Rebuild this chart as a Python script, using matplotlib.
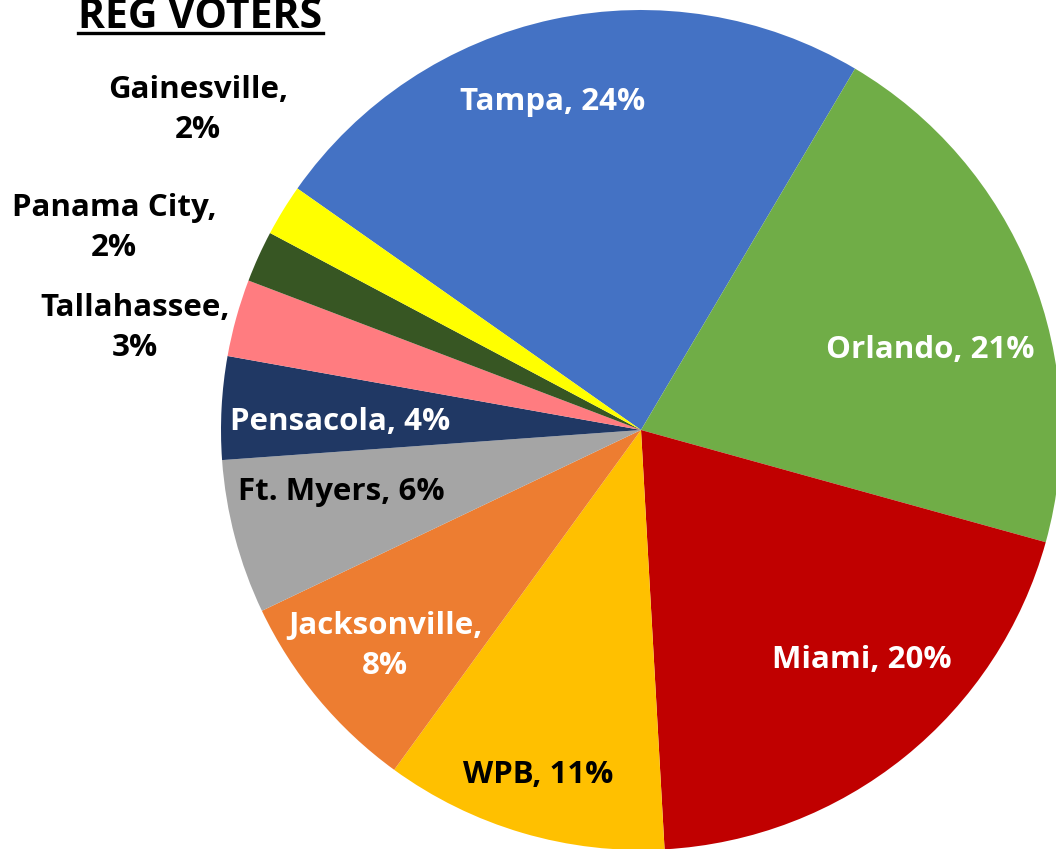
import matplotlib
matplotlib.use("Agg")
import matplotlib.pyplot as plt

# Registered voters by media market (percent)
markets = ["Tampa", "Orlando", "Miami", "WPB", "Jacksonville", "Ft. Myers",
           "Pensacola", "Tallahassee", "Panama City", "Gainesville"]
shares = [24, 21, 20, 11, 8, 6, 4, 3, 2, 2]
colors = ["#4472C4", "#70AD47", "#C00000", "#FFC000", "#ED7D31", "#A5A5A5",
          "#203864", "#FF7C80", "#375623", "#FFFF00"]
label_colors = ["white", "white", "white", "black", "white", "black",
                "white", "black", "black", "black"]
# label text: wrapped ones get their own line for the percentage
wrapped = ["Jacksonville", "Tallahassee", "Panama City", "Gainesville"]

W, H = 1056, 849
CX, CY, R = 641, 430, 420  # pie center / radius in pixels

# label anchor positions in pixels
label_px = {
    "Tampa": (553, 102),
    "Orlando": (930, 350),
    "Miami": (862, 660),
    "WPB": (538, 775),
    "Jacksonville": (385, 646),
    "Ft. Myers": (341, 492),
    "Pensacola": (340, 422),
    "Tallahassee": (135, 328),
    "Panama City": (114, 228),
    "Gainesville": (198, 110),
}

FONT = "Open Sans"

fig = plt.figure(figsize=(W / 100, H / 100), dpi=100)
ax = fig.add_axes([0, 0, 1, 1])

ax.pie(shares, colors=colors, startangle=144.9, counterclock=False,
       radius=1.0, center=(0, 0),
       wedgeprops=dict(linewidth=0, edgecolor="none"))

ax.set_xlim(-CX / R, (W - CX) / R)
ax.set_ylim(-(H - CY) / R, CY / R)
ax.set_aspect("auto")
ax.axis("off")


def to_data(px, py):
    return (px - CX) / R, (CY - py) / R


for name, val, tc in zip(markets, shares, label_colors):
    txt = f"{name},\n{val}%" if name in wrapped else f"{name}, {val}%"
    x, y = to_data(*label_px[name])
    ax.text(x, y, txt, ha="center", va="center", color=tc,
            fontsize=22.5, fontweight="bold", family=FONT,
            linespacing=1.45)

# underlined heading, partly above the canvas edge
fig.text(200 / W, 1 - 28 / H, "REG VOTERS", ha="center", va="baseline",
         fontsize=29.5, fontweight="bold", family=FONT, color="black")
fig.add_artist(plt.Line2D([78 / W, 323 / W], [1 - 32.5 / H, 1 - 32.5 / H],
                          color="black", linewidth=2.4,
                          transform=fig.transFigure))

fig.savefig("out.png", dpi=100)
